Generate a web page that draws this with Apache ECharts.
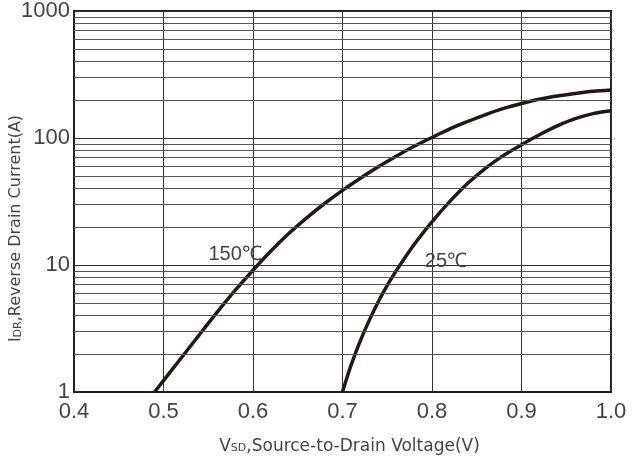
<!DOCTYPE html>
<html>
<head>
<meta charset="utf-8">
<script src="https://cdn.jsdelivr.net/npm/echarts@6/dist/echarts.min.js"></script>
<style>html,body{margin:0;padding:0;background:#fff;}#c{width:642px;height:459px;}</style>
</head>
<body>
<div id="c"></div>
<script>
// Data
var xTicks = [0.4, 0.5, 0.6, 0.7, 0.8, 0.9, 1.0];
var yTicks = [1, 10, 100, 1000];
var yMinorGrid = [2,3,4,5,6,7,8,9,20,30,40,50,60,70,80,90,200,300,400,500,600,700,800,900];
var t150_x = [0.49,0.50,0.52,0.54,0.56,0.58,0.60,0.62,0.64,0.66,0.68,0.70,0.72,0.74,0.76,0.78,0.80,0.82,0.84,0.86,0.88,0.90,0.92,0.94,0.96,0.98,1.00];
var t150_y = [1,1.23,1.86,2.82,4.25,6.3,9.1,12.9,17.7,23.5,30.5,38.7,48.2,59.3,71.9,86,101,118,135,153,171,187,202,214,224,233,239];
var t25_x = [0.70,0.705,0.71,0.72,0.73,0.74,0.75,0.76,0.78,0.80,0.82,0.84,0.86,0.88,0.90,0.92,0.94,0.96,0.98,1.00];
var t25_y = [1,1.3,1.66,2.54,3.68,5.13,6.9,9.0,14.5,21.9,31.7,44,58,73,88.5,106,124.5,142,155.6,164];
var curveLabels = [{name:'150℃', x:0.58, y:12}, {name:'25℃', x:0.8156, y:10.7}];

function zip(xs, ys){ return xs.map(function(x,i){ return [x, ys[i]]; }); }

var chart = echarts.init(document.getElementById('c'));
var lineColor = '#231815';
var textColor = '#444';
var fontFam = '"Liberation Sans", Arial, sans-serif';
var nameFam = '"DejaVu Sans", sans-serif';

chart.setOption({
  animation: false,
  backgroundColor: '#fff',
  grid: { left: 74, right: 31, top: 11, bottom: 67, containLabel: false, outerBoundsMode: 'none',
          show: true, borderColor: '#231f20', borderWidth: 2, backgroundColor: 'transparent' },
  xAxis: {
    type: 'value', min: 0.4, max: 1.0, interval: 0.1,
    axisLine: { show: true, lineStyle: { color: '#231f20', width: 2 } },
    axisTick: { show: false },
    axisLabel: { color: textColor, fontSize: 22, fontFamily: fontFam, margin: 9,
      formatter: function(v){ return v.toFixed(1); } },
    splitLine: { show: true, lineStyle: { color: '#333', width: 1 } },
    name: '{s|V}{sub|SD}{s|,Source-to-Drain Voltage(V)}',
    nameLocation: 'middle', nameGap: 46, nameMoveOverlap: false,
    nameTextStyle: { padding: [0, 0, 0, 14], rich: {
      s: { fontSize: 17, color: textColor, fontFamily: nameFam },
      sub: { fontSize: 11, color: textColor, fontFamily: nameFam, padding: [4,0,0,0] }
    } }
  },
  yAxis: {
    type: 'log', logBase: 10, min: 1, max: 1000,
    axisLine: { show: true, lineStyle: { color: '#231f20', width: 2 } },
    axisTick: { show: false },
    axisLabel: { color: textColor, fontSize: 22, fontFamily: fontFam, margin: 4,
      formatter: function(v){ return String(Math.round(v)); } },
    splitLine: { show: true, lineStyle: { color: '#333', width: 1 } },
    name: '{s|I}{sub|DR}{s|,Reverse Drain Current(A)}',
    nameLocation: 'middle', nameGap: 50, nameRotate: 90, nameMoveOverlap: false,
    nameTextStyle: { padding: [0, 54, 0, 0], rich: {
      s: { fontSize: 16, color: textColor, fontFamily: nameFam },
      sub: { fontSize: 11, color: textColor, fontFamily: nameFam, padding: [4,0,0,0] }
    } }
  },
  series: [
    {
      type: 'line', name: 'grid', data: [], silent: true,
      markLine: {
        silent: true, symbol: 'none', animation: false,
        label: { show: false },
        lineStyle: { color: '#555', width: 1, type: 'solid' },
        data: yMinorGrid.map(function(v){ return { yAxis: v }; })
      }
    },
    {
      type: 'line', name: '150℃', data: zip(t150_x, t150_y), smooth: 0.3, showSymbol: false,
      lineStyle: { color: lineColor, width: 3.5 }, clip: true,
      markPoint: {
        symbol: 'circle', symbolSize: 0,
        label: { show: true, color: textColor, fontSize: 20, fontFamily: fontFam, formatter: '{b}' },
        data: [{ name: curveLabels[0].name, coord: [curveLabels[0].x, curveLabels[0].y] }]
      }
    },
    {
      type: 'line', name: '25℃', data: zip(t25_x, t25_y), smooth: 0.3, showSymbol: false,
      lineStyle: { color: lineColor, width: 3.5 }, clip: true,
      markPoint: {
        symbol: 'circle', symbolSize: 0,
        label: { show: true, color: textColor, fontSize: 20, fontFamily: fontFam, formatter: '{b}' },
        data: [{ name: curveLabels[1].name, coord: [curveLabels[1].x, curveLabels[1].y] }]
      }
    }
  ]
});
</script>
</body>
</html>
